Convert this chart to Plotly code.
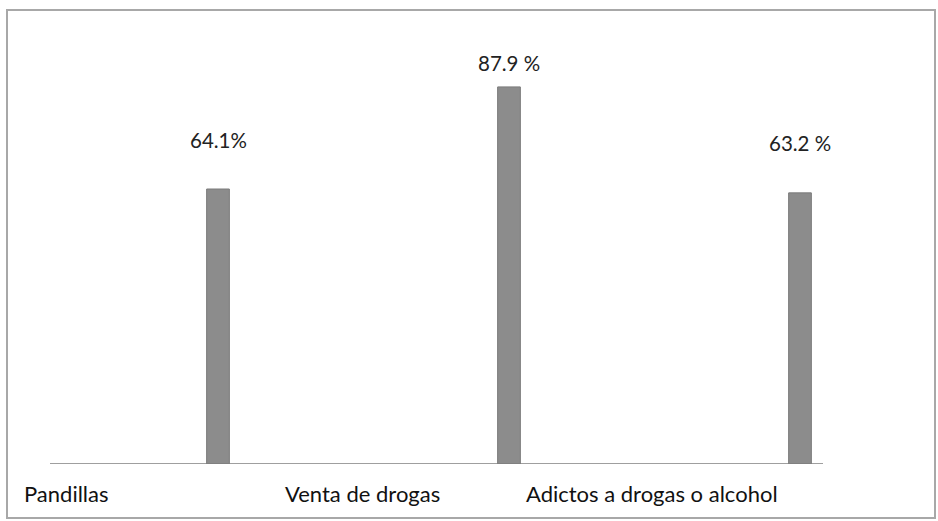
import plotly.graph_objects as go

categories = ["Pandillas", "Venta de drogas", "Adictos a drogas o alcohol"]
values = [64.1, 87.9, 63.2]
value_labels = ["64.1%", "87.9 %", "63.2 %"]

W, H = 938, 521
ML, MR, MT, MB = 10, 3, 35, 57
plot_w = W - ML - MR
plot_h = H - MT - MB

def px_x(p):
    return (p - ML) / plot_w

def px_y(p):
    return (H - MB - p) / plot_h

FONT = "Lato, Carlito, Calibri, sans-serif"

fig = go.Figure()
fig.add_trace(go.Bar(
    x=categories, y=values,
    width=0.078,
    marker=dict(color="#8c8c8c", line=dict(color="#7a7a7a", width=1)),
    hoverinfo="skip",
))

label_shift = [49, 24, 50]
for c, v, t, s in zip(categories, values, value_labels, label_shift):
    fig.add_annotation(x=c, y=v, text=t, showarrow=False, yshift=s,
                       xanchor="center", yanchor="middle",
                       font=dict(family=FONT, size=20.5, color="#222222"))

label_left = [22, 283, 524]
for c, lx in zip(categories, label_left):
    fig.add_annotation(xref="paper", yref="paper", x=px_x(lx), y=px_y(493),
                       text=c, showarrow=False, xanchor="left", yanchor="middle",
                       font=dict(family=FONT, size=22, color="#111111"))

# axis baseline
fig.add_shape(type="line", xref="paper", yref="y", x0=px_x(50), x1=px_x(823),
              y0=0, y1=0, line=dict(color="#7f7f7f", width=1.5))
# outer frame
fig.add_shape(type="rect", xref="paper", yref="paper",
              x0=px_x(7), x1=px_x(935), y0=px_y(518), y1=px_y(10),
              line=dict(color="#a8a8a8", width=2), fillcolor="rgba(0,0,0,0)")

unit = 291.0
a = -(218 - ML) / unit
fig.update_xaxes(range=[a, a + plot_w / unit], showticklabels=False,
                 showgrid=False, zeroline=False, showline=False)
fig.update_yaxes(range=[0, 100], showticklabels=False, showgrid=False,
                 zeroline=False, showline=False)
fig.update_layout(width=W, height=H, margin=dict(l=ML, r=MR, t=MT, b=MB),
                  paper_bgcolor="white", plot_bgcolor="white",
                  showlegend=False)

fig.write_html("out.html", config={"displayModeBar": False},
               post_script="document.body.style.margin='0';document.body.style.overflow='hidden';")
